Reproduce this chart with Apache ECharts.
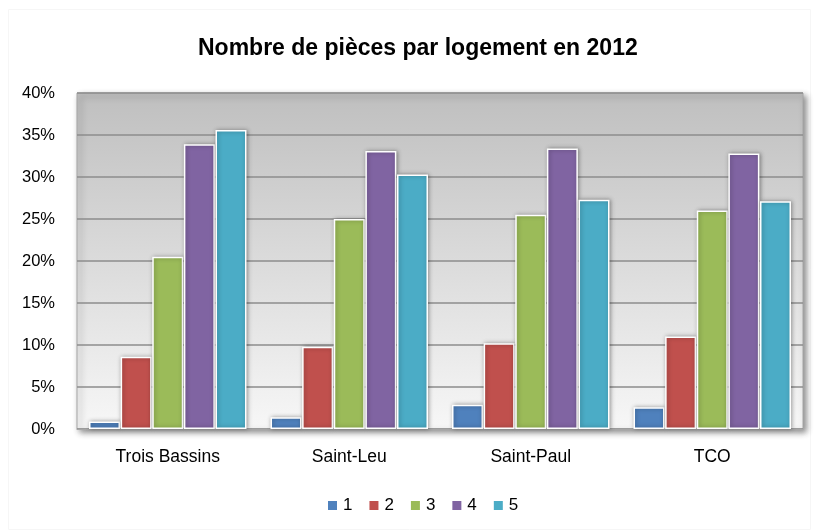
<!DOCTYPE html>
<html>
<head>
<meta charset="utf-8">
<script src="https://cdn.jsdelivr.net/npm/echarts@6/dist/echarts.min.js"></script>
<style>
  html, body { margin: 0; padding: 0; background: #fff; }
  #chart { width: 819px; height: 532px; }
</style>
</head>
<body>
<div id="chart"></div>
<script>
// communes
const categories = ['Trois Bassins', 'Saint-Leu', 'Saint-Paul', 'TCO']
// nombre de pièces (en %)
const piece1 = [0.9, 1.4, 2.9, 2.6]
const piece2 = [8.6, 9.8, 10.2, 11.0]
const piece3 = [20.5, 25.0, 25.5, 26.0]
const piece4 = [33.9, 33.1, 33.4, 32.8]
const piece5 = [35.6, 30.3, 27.3, 27.1]
const seriesNames = ['1', '2', '3', '4', '5']
const colors = ['#4F81BD', '#C0504D', '#9BBB59', '#8064A2', '#4BACC6']

const chart = echarts.init(document.getElementById('chart'))

function makeSeries(name, data, i) {
  return {
    name: name,
    type: 'bar',
    data: data,
    barWidth: 31,
    barGap: '2%',
    itemStyle: {
      color: colors[i],
      borderColor: '#fff',
      borderWidth: 1.5,
      shadowBlur: 4,
      shadowColor: 'rgba(0, 0, 0, 0.35)',
      shadowOffsetX: 1,
      shadowOffsetY: 0,
    },
    emphasis: { disabled: true },
    animation: false,
  }
}

chart.setOption({
  backgroundColor: '#fff',
  textStyle: { fontFamily: 'Liberation Sans, Arial, sans-serif' },
  title: {
    text: 'Nombre de pièces par logement en 2012',
    left: 193,
    top: 32,
    textStyle: {
      fontSize: 23,
      fontWeight: 'bold',
      color: '#000',
      fontFamily: 'Liberation Sans, Arial, sans-serif',
    },
  },
  graphic: [
    {
      type: 'rect',
      shape: { x: 8.5, y: 9.5, width: 802, height: 520 },
      style: { fill: 'none', stroke: '#f6f6f6', lineWidth: 1 },
      silent: true,
      z: -1,
    },
  ],
  grid: {
    left: 77,
    right: 16,
    top: 93,
    bottom: 103,
    show: true,
    borderColor: '#a6a6a6',
    borderWidth: 1,
    backgroundColor: new echarts.graphic.LinearGradient(0, 0, 0, 1, [
      { offset: 0, color: '#bfbfbf' },
      { offset: 1, color: '#f7f7f7' },
    ]),
    shadowBlur: 6,
    shadowColor: 'rgba(0, 0, 0, 0.45)',
    shadowOffsetX: 3,
    shadowOffsetY: 3,
  },
  legend: {
    data: seriesNames,
    bottom: 13,
    left: 321,
    icon: 'rect',
    itemWidth: 11,
    itemHeight: 11,
    itemGap: 15,
    textStyle: { fontSize: 17, color: '#000' },
  },
  xAxis: {
    type: 'category',
    data: categories,
    axisTick: { show: false },
    axisLine: { show: true, lineStyle: { color: '#a6a6a6', width: 1 } },
    axisLabel: { fontSize: 17.5, color: '#000', margin: 19 },
  },
  yAxis: {
    type: 'value',
    min: 0,
    max: 40,
    interval: 5,
    axisLine: { show: false },
    axisTick: { show: false },
    axisLabel: { fontSize: 16.5, color: '#000', margin: 22, formatter: '{value}%' },
    splitLine: {
      show: true,
      lineStyle: { color: '#8c8c8c', width: 1.5 },
    },
  },
  series: [piece1, piece2, piece3, piece4, piece5].map((d, i) =>
    makeSeries(seriesNames[i], d, i)
  ),
})
</script>
</body>
</html>
